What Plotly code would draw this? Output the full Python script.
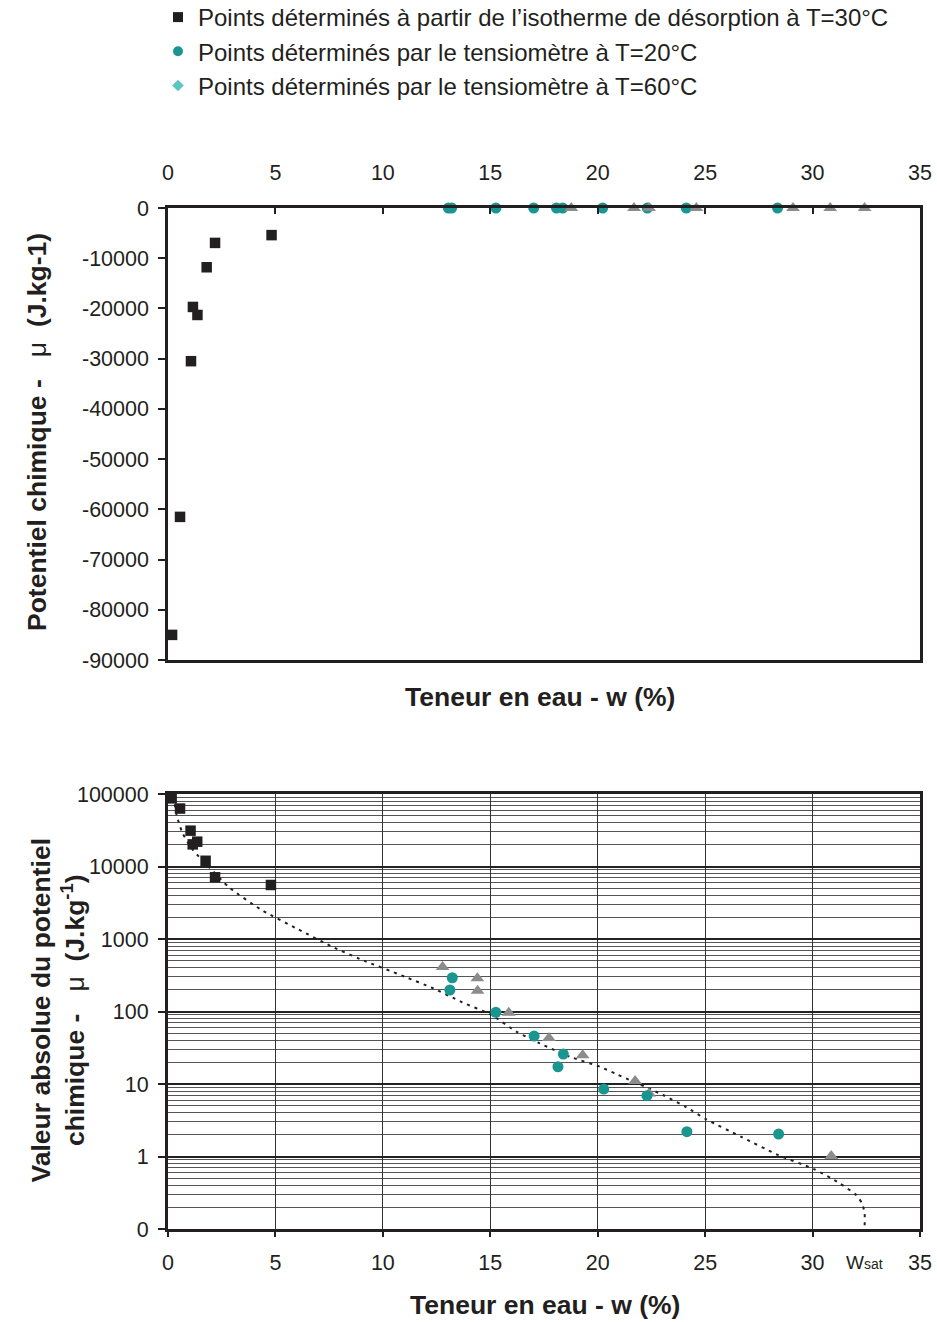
import plotly.graph_objects as go

# ---------------- data ----------------
# Top chart (linear): chemical potential mu (J/kg) vs water content w (%)
desorp_w = [0.19, 0.56, 1.07, 1.16, 1.37, 1.80, 2.19, 4.82]
desorp_mu = [-85000, -61500, -30500, -19700, -21300, -11800, -6950, -5400]

tens20_w_top = [13.05, 13.20, 15.26, 17.02, 18.08, 18.37, 20.23, 22.31, 24.12, 28.37]
tens20_mu_top = [0, 0, 0, 0, 0, 0, 0, 0, 0, 0]

tens60_w_top = [18.77, 21.69, 22.39, 24.59, 29.09, 30.82, 32.42]
tens60_mu_top = [0, 0, 0, 0, 0, 0, 0]

# Bottom chart (log): |mu| vs w
desorp_abs_w = [0.17, 0.56, 1.05, 1.15, 1.36, 1.75, 2.19, 4.79]
desorp_abs_mu = [87000, 63000, 31200, 20200, 22000, 12000, 7100, 5560]

tens20_w = [13.23, 13.12, 15.26, 17.04, 18.40, 18.15, 20.28, 22.29, 24.15, 28.42]
tens20_mu = [292, 198, 97.5, 45.9, 25.9, 17.3, 8.5, 6.9, 2.2, 2.04]

tens60_w = [12.78, 14.40, 14.41, 15.86, 17.73, 19.30, 21.74, 22.39, 30.87]
tens60_mu = [410, 287, 194, 96, 43, 25, 11, 7.4, 1.02]

# fitted curve (dotted)
curve_w = [0.20, 0.40, 0.68, 1.16, 1.95, 2.84, 4.36, 5.98, 7.64, 8.93, 11.02, 12.34,
           13.65, 15.05, 16.22, 17.30, 18.70, 20.10, 20.87, 23.04, 24.12, 25.05, 26.68,
           28.39, 30.09, 31.26, 32.03, 32.30, 32.42, 32.42]
curve_mu = [120000, 51600, 28700, 16900, 9550, 5160, 2510, 1400, 783, 530, 302, 209,
            136, 89.6, 52.6, 36.4, 23.8, 17.3, 13.7, 7.05, 4.78, 3.26, 1.87,
            1.05, 0.665, 0.427, 0.294, 0.226, 0.166, 0.1]

x_ticks = [0, 5, 10, 15, 20, 25, 30, 35]
top_y_ticks = [0, -10000, -20000, -30000, -40000, -50000, -60000, -70000, -80000, -90000]
log_y_ticks = [0.1, 1, 10, 100, 1000, 10000, 100000]
log_y_labels = ["0", "1", "10", "100", "1000", "10000", "100000"]

legend_names = [
    "Points déterminés à partir de l’isotherme de désorption à T=30°C",
    "Points déterminés par le tensiomètre à T=20°C",
    "Points déterminés par le tensiomètre à T=60°C",
]

# ---------------- styles ----------------
FONT = "Liberation Sans, Arial, sans-serif"
TXT = "#231f20"
BLACK = "#231f20"
TEAL = "#1a9690"
LTEAL = "#5cc6c0"
GRAY = "#8c8c8c"

W, H = 937, 1322
XL, XR = 168, 920
TOP_T, TOP_B = 208, 660
BOT_T, BOT_B = 794, 1229

def xd():
    return [XL / W, XR / W]

def yd(t, b):
    return [(H - b) / H, (H - t) / H]

def px(x):
    return x / W

def py(y):
    return (H - y) / H

fig = go.Figure()

# legend-only entries
fig.add_trace(go.Scatter(x=[None], y=[None], mode="markers", name=legend_names[0],
                         marker=dict(symbol="square", size=10, color=BLACK),
                         xaxis="x", yaxis="y"))
fig.add_trace(go.Scatter(x=[None], y=[None], mode="markers", name=legend_names[1],
                         marker=dict(symbol="circle", size=10, color=TEAL),
                         xaxis="x", yaxis="y"))
fig.add_trace(go.Scatter(x=[None], y=[None], mode="markers", name=legend_names[2],
                         marker=dict(symbol="diamond", size=9, color=LTEAL),
                         xaxis="x", yaxis="y"))

# top chart
fig.add_trace(go.Scatter(x=desorp_w, y=desorp_mu, mode="markers", showlegend=False,
                         marker=dict(symbol="square", size=10.5, color=BLACK),
                         cliponaxis=False, xaxis="x", yaxis="y"))
fig.add_trace(go.Scatter(x=tens20_w_top, y=tens20_mu_top, mode="markers", showlegend=False,
                         marker=dict(symbol="circle", size=11, color=TEAL),
                         cliponaxis=False, xaxis="x", yaxis="y"))
fig.add_trace(go.Scatter(x=tens60_w_top, y=tens60_mu_top, mode="markers", showlegend=False,
                         marker=dict(symbol="triangle-up", size=12, color=GRAY),
                         cliponaxis=False, xaxis="x", yaxis="y"))

# bottom chart
fig.add_trace(go.Scatter(x=curve_w, y=curve_mu, mode="lines", showlegend=False,
                         line=dict(color=BLACK, width=2, dash="3px,5px", shape="spline",
                                   smoothing=0.6),
                         cliponaxis=False, xaxis="x2", yaxis="y2"))
fig.add_trace(go.Scatter(x=desorp_abs_w, y=desorp_abs_mu, mode="markers", showlegend=False,
                         marker=dict(symbol="square", size=10.5, color=BLACK),
                         cliponaxis=False, xaxis="x2", yaxis="y2"))
fig.add_trace(go.Scatter(x=tens60_w, y=tens60_mu, mode="markers", showlegend=False,
                         marker=dict(symbol="triangle-up", size=12, color=GRAY),
                         cliponaxis=False, xaxis="x2", yaxis="y2"))
fig.add_trace(go.Scatter(x=tens20_w, y=tens20_mu, mode="markers", showlegend=False,
                         marker=dict(symbol="circle", size=11, color=TEAL),
                         cliponaxis=False, xaxis="x2", yaxis="y2"))

tickfont = dict(family=FONT, size=21.5, color=TXT)
titlefont = dict(family=FONT, size=26.5, color=TXT)

fig.update_layout(
    width=W, height=H,
    margin=dict(l=0, r=0, t=0, b=0, autoexpand=False),
    paper_bgcolor="white", plot_bgcolor="white",
    font=dict(family=FONT, color=TXT),
    showlegend=True,
    legend=dict(x=158 / W, y=1 + 5 / H, xanchor="left", yanchor="top",
                font=dict(family=FONT, size=24, color=TXT),
                bgcolor="rgba(0,0,0,0)", tracegroupgap=0, itemwidth=30),
    xaxis=dict(domain=xd(), anchor="y", side="top", range=[0, 35],
               tickvals=x_ticks, ticks="inside", ticklen=6, tickwidth=2, tickcolor=BLACK,
               showline=True, linewidth=2.5, linecolor=BLACK, mirror=True,
               showgrid=False, zeroline=False, tickfont=tickfont, ticklabelstandoff=17),
    yaxis=dict(domain=yd(TOP_T, TOP_B), anchor="x", range=[-90000, 0],
               tickvals=top_y_ticks, ticktext=[str(v) for v in top_y_ticks],
               ticks="outside", ticklen=7, tickwidth=2, tickcolor=BLACK,
               showline=True, linewidth=2.5, linecolor=BLACK, mirror=True,
               showgrid=False, zeroline=False, tickfont=tickfont, ticklabelstandoff=5),
    xaxis2=dict(domain=xd(), anchor="y2", range=[0, 35],
                tickvals=x_ticks, ticks="outside", ticklen=5, tickwidth=2, tickcolor=BLACK,
                showline=True, linewidth=3, linecolor=BLACK, mirror=True,
                showgrid=True, gridcolor="#333333", gridwidth=1.3,
                zeroline=False, tickfont=tickfont, ticklabelstandoff=7),
    yaxis2=dict(domain=yd(BOT_T, BOT_B), anchor="x2", type="log", range=[-1, 5],
                tickvals=log_y_ticks, ticktext=log_y_labels,
                ticks="outside", ticklen=7, tickwidth=2, tickcolor=BLACK,
                showline=True, linewidth=3, linecolor=BLACK, mirror=True,
                showgrid=True, gridcolor="#222222", gridwidth=1.6,
                minor=dict(dtick="D1", showgrid=True, gridcolor="#555555", gridwidth=1, ticks=""),
                zeroline=False, tickfont=tickfont, ticklabelstandoff=5),
)

# axis titles
fig.add_annotation(text="<b>Teneur en eau - w (%)</b>", xref="paper", yref="paper",
                   x=px(539.5), y=py(697), showarrow=False, font=titlefont,
                   xanchor="center", yanchor="middle")
fig.add_annotation(text="<b>Teneur en eau - w (%)</b>", xref="paper", yref="paper",
                   x=px(544.5), y=py(1305), showarrow=False, font=titlefont,
                   xanchor="center", yanchor="middle")
fig.add_annotation(text="<b>Potentiel chimique -   </b>μ<b>  (J.kg-1)</b>", xref="paper", yref="paper",
                   x=px(37), y=py(432), showarrow=False, font=titlefont, textangle=-90,
                   xanchor="center", yanchor="middle")
fig.add_annotation(text="<b>Valeur absolue du potentiel</b><br><b>chimique -   </b>μ<b>  (J.kg<sup>-1</sup>)</b>",
                   xref="paper", yref="paper",
                   x=px(57.5), y=py(1010), showarrow=False, font=titlefont, textangle=-90,
                   xanchor="center", yanchor="middle")
# w_sat label
fig.add_annotation(text="W<span style='font-size:14px'>sat</span>", xref="x2", yref="paper",
                   x=32.4, y=py(1262), showarrow=False,
                   font=dict(family=FONT, size=19, color=TXT),
                   xanchor="center", yanchor="middle")

fig.write_html("out.html", config={"displayModeBar": False},
               post_script="document.body.style.margin='0';document.body.style.overflow='hidden';")
